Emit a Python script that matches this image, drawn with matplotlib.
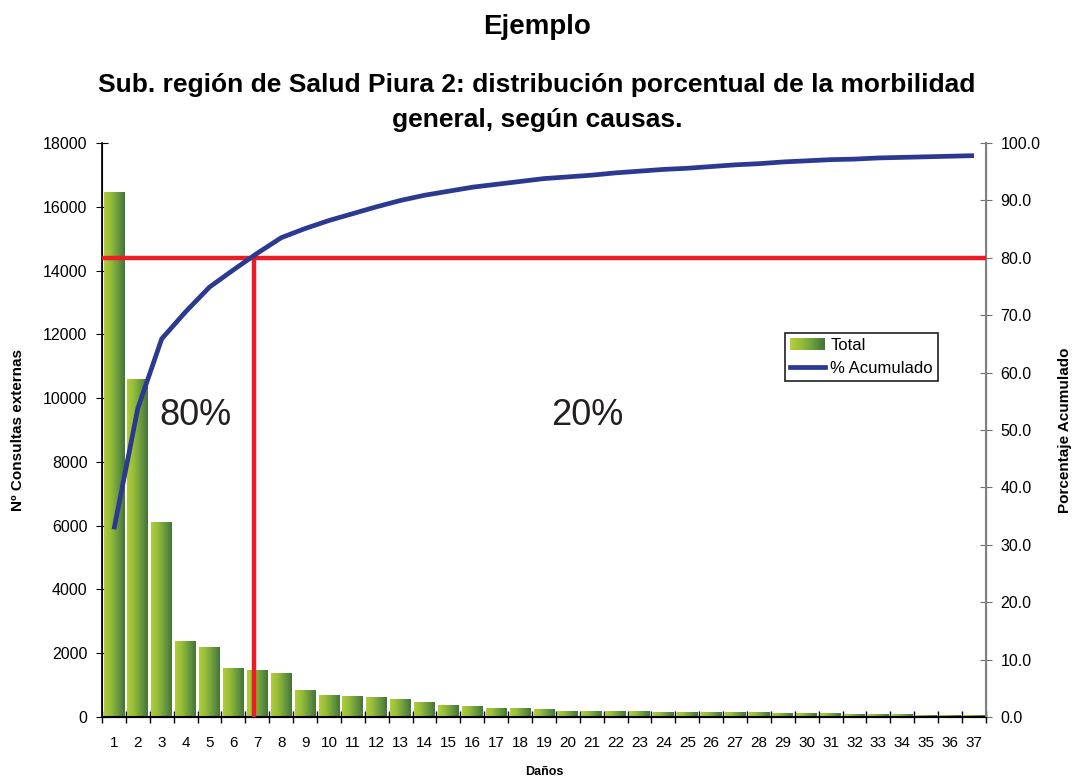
import numpy as np
import matplotlib
matplotlib.use("Agg")
import matplotlib.pyplot as plt
from matplotlib.colors import LinearSegmentedColormap
from matplotlib.legend_handler import HandlerBase
from matplotlib.patches import Rectangle
from matplotlib.lines import Line2D

# datos: consultas externas por daño y porcentaje acumulado
danos = [str(i) for i in range(1, 38)]
total = [16450, 10590, 6100, 2365, 2173, 1513, 1453, 1357, 826, 669,
         637, 606, 543, 449, 355, 324, 261, 261, 230, 167,
         167, 167, 167, 136, 136, 136, 136, 136, 105, 105,
         105, 73, 73, 73, 42, 42, 40]
acumulado = [32.7, 53.8, 65.9, 70.6, 74.9, 77.9, 80.8, 83.5, 85.1, 86.5,
             87.7, 88.9, 90.0, 90.9, 91.6, 92.3, 92.8, 93.3, 93.8, 94.1,
             94.4, 94.8, 95.1, 95.4, 95.6, 95.9, 96.2, 96.4, 96.7, 96.9,
             97.1, 97.2, 97.4, 97.5, 97.6, 97.7, 97.8]
corte_pct = 80
corte_x = 5.85  # posición de la línea vertical (entre daño 6 y 7)

ARIAL = ["Liberation Sans", "DejaVu Sans"]

verde = LinearSegmentedColormap.from_list(
    "verde", ["#b2cd3a", "#93bb3a", "#6a9a3c", "#44733d"])
AZUL = "#2b3990"
ROJO = "#ed1c24"


class GradientHandler(HandlerBase):  # cuadro degradado para la leyenda
    def create_artists(self, legend, orig_handle, xdescent, ydescent,
                       width, height, fontsize, trans):
        n = 24
        arts = []
        for i in range(n):
            arts.append(Rectangle((-xdescent + i * width / n, -ydescent),
                                  width / n * 1.05, height,
                                  facecolor=verde(i / (n - 1)),
                                  edgecolor="none", transform=trans))
        return arts


fig = plt.figure(figsize=(10.74, 7.76), dpi=100)
ax = fig.add_axes([0.095, 0.076, 0.823, 0.7397])
ax2 = ax.twinx()

# barras con degradado horizontal (claro a la izquierda, oscuro a la derecha)
x = np.arange(len(danos))
bars = ax.bar(x, total, width=0.87, color="none", edgecolor="none")
grad = np.linspace(0, 1, 64).reshape(1, -1)
for b in bars:
    ax.imshow(grad, cmap=verde, aspect="auto", interpolation="bicubic",
              extent=[b.get_x(), b.get_x() + b.get_width(), 0, b.get_height()],
              zorder=2)

ax.set_xlim(-0.5, len(danos) - 0.5)
ax.set_ylim(0, 18000)
ax.set_yticks(np.arange(0, 18001, 2000))
ax.set_xticks(x)
ax.set_xticklabels(danos, fontfamily=ARIAL, fontsize=11)
ax.set_xticks(np.arange(-0.5, len(danos)), minor=True)
ax.tick_params(axis="x", which="major", length=0, pad=14)
ax.tick_params(axis="x", which="minor", length=8, direction="inout", width=1)
ax.tick_params(axis="y", length=9, direction="inout", labelsize=11.5, pad=6)
for t in ax.get_yticklabels():
    t.set_fontfamily(ARIAL)

ax2.set_ylim(0, 100)
ax2.set_yticks(np.arange(0, 101, 10))
ax2.set_yticklabels([f"{v:.1f}" for v in range(0, 101, 10)],
                    fontfamily=ARIAL, fontsize=11.5)
ax2.tick_params(axis="y", length=9, direction="inout", color="#707070", pad=6)

ax.spines["top"].set_visible(False)
ax2.spines["top"].set_visible(False)
ax2.spines["right"].set_color("#808080")
ax2.spines["right"].set_linewidth(1.5)
ax.spines["left"].set_linewidth(1.2)
ax.spines["bottom"].set_linewidth(1.5)

# líneas del corte 80/20
ax2.axhline(corte_pct, color=ROJO, lw=3.2, zorder=3)
ax2.plot([corte_x, corte_x], [0, corte_pct], color=ROJO, lw=3.2, zorder=3)
ax2.plot(x, acumulado, color=AZUL, lw=3.4, zorder=4, solid_capstyle="butt")

ax2.text(3.4, 52.6, "80%", fontsize=26, fontfamily=ARIAL,
         ha="center", va="center", color="#231f20")
ax2.text(19.8, 52.6, "20%", fontsize=26, fontfamily=ARIAL,
         ha="center", va="center", color="#231f20")

h_total = Rectangle((0, 0), 1, 1)
h_acum = Line2D([], [], color=AZUL, lw=3.4)
leg = ax2.legend([h_total, h_acum], ["Total", "% Acumulado"],
                 handler_map={Rectangle: GradientHandler()},
                 loc="upper left", bbox_to_anchor=(0.773, 0.669),
                 borderaxespad=0, fancybox=False, framealpha=1,
                 prop={"family": ARIAL, "size": 12},
                 handlelength=2.1, handletextpad=0.3, labelspacing=0.45,
                 borderpad=0.3)
leg.get_frame().set_edgecolor("#231f20")
leg.get_frame().set_linewidth(1.2)

ax.set_ylabel("Nº Consultas externas", fontfamily=ARIAL, fontweight="bold",
              fontsize=11, va="center")
ax.yaxis.set_label_coords(-0.095, 0.5)
ax2.set_ylabel("Porcentaje Acumulado", fontfamily=ARIAL, fontweight="bold",
               fontsize=11, rotation=90, va="center")
ax2.yaxis.set_label_coords(1.09, 0.5)
ax.set_xlabel("Daños", fontfamily=ARIAL, fontweight="bold", fontsize=9)
ax.xaxis.set_label_coords(0.5, -0.085)

fig.text(0.5, 0.965, "Ejemplo", ha="center", va="center",
         fontfamily=ARIAL, fontweight="bold", fontsize=20)
fig.text(0.5, 0.868, "Sub. región de Salud Piura 2: distribución porcentual de la morbilidad\ngeneral, según causas.",
         ha="center", va="center", fontfamily=ARIAL, fontweight="bold",
         fontsize=19, linespacing=1.6)

fig.savefig("out.png", dpi=100)
